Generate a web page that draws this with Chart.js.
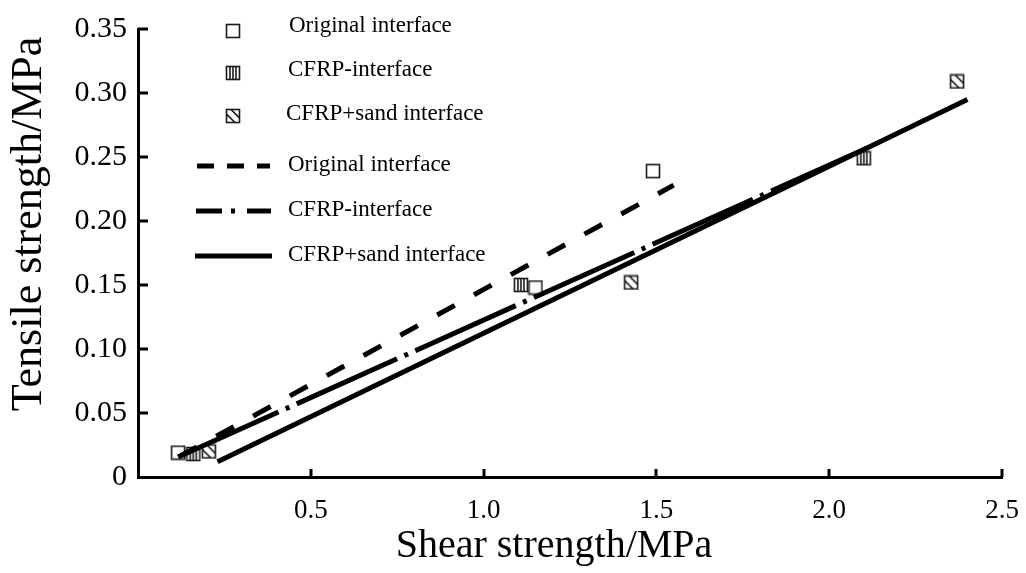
<!DOCTYPE html>
<html>
<head>
<meta charset="utf-8">
<script src="https://cdn.jsdelivr.net/npm/chart.js@4.4.0/dist/chart.umd.min.js"></script>
<style>
  html, body { margin: 0; padding: 0; background: #fff; }
  #wrap { width: 1026px; height: 573px; position: relative; }
</style>
</head>
<body>
<div id="wrap"><canvas id="chart"></canvas></div>
<script>
// ===== data =====
const seriesNames = ['Original interface', 'CFRP-interface', 'CFRP+sand interface'];
const xTitle = 'Shear strength/MPa';
const yTitle = 'Tensile strength/MPa';

const origShear   = [0.116, 1.15, 1.49];
const origTensile = [0.019, 0.148, 0.239];
const cfrpShear   = [0.16, 1.108, 2.10];
const cfrpTensile = [0.018, 0.150, 0.249];
const sandShear   = [0.205, 1.427, 2.37];
const sandTensile = [0.020, 0.152, 0.309];

// fitted lines (end points)
const origFitX = [0.12, 1.55];
const origFitY = [0.016, 0.228];
const cfrpFitX = [0.116, 2.11];
const cfrpFitY = [0.0156, 0.257];
const sandFitX = [0.23, 2.40];
const sandFitY = [0.012, 0.295];

const xTicks = [0.5, 1.0, 1.5, 2.0, 2.5];
const yTicks = [0, 0.05, 0.10, 0.15, 0.20, 0.25, 0.30, 0.35];

const SERIF = '"Liberation Serif", "Times New Roman", serif';

// ===== marker images =====
function makeMarker(kind) {
    const c = document.createElement('canvas');
    c.width = 16; c.height = 16;
    const g = c.getContext('2d');
    g.fillStyle = '#fff';
    g.fillRect(1.5, 1.5, 13, 13);
    g.strokeStyle = '#1a1a1a';
    g.lineWidth = 1.6;
    if (kind === 'vert') {
        g.beginPath();
        [5, 8, 11].forEach(x => { g.moveTo(x, 2); g.lineTo(x, 14); });
        g.stroke();
    } else if (kind === 'diag') {
        g.save();
        g.beginPath(); g.rect(1.5, 1.5, 13, 13); g.clip();
        g.beginPath();
        g.moveTo(1.5, 6); g.lineTo(10, 14.5);
        g.moveTo(6, 1.5); g.lineTo(14.5, 10);
        g.stroke();
        g.restore();
    }
    g.strokeRect(1.5, 1.5, 13, 13);
    return c;
}
const markers = [makeMarker('plain'), makeMarker('vert'), makeMarker('diag')];

const pts = (xs, ys) => xs.map((x, i) => ({ x: x, y: ys[i] }));

function lineSet(label, xs, ys, dash) {
    return {
        type: 'line', label: label, data: pts(xs, ys),
        borderColor: '#000', borderWidth: 5, borderDash: dash,
        pointRadius: 0, fill: false, tension: 0, borderCapStyle: 'butt'
    };
}
function pointSet(label, xs, ys, img) {
    return {
        type: 'scatter', label: label, data: pts(xs, ys),
        pointStyle: img, pointRadius: 8, showLine: false
    };
}

// ===== inward tick marks =====
const innerTicks = {
    id: 'innerTicks',
    afterDraw(chart) {
        const ctx = chart.ctx;
        const xs = chart.scales.x, ys = chart.scales.y;
        const area = chart.chartArea;
        ctx.save();
        ctx.strokeStyle = '#000';
        ctx.lineWidth = 3;
        ctx.beginPath();
        xTicks.forEach(v => {
            const px = Math.round(xs.getPixelForValue(v));
            ctx.moveTo(px, area.bottom);
            ctx.lineTo(px, area.bottom - 8);
        });
        yTicks.forEach(v => {
            if (v === 0) return;
            const py = Math.round(ys.getPixelForValue(v));
            ctx.moveTo(area.left, py);
            ctx.lineTo(area.left + 10, py);
        });
        ctx.stroke();
        ctx.restore();
    }
};

// ===== axis titles (placed like the original, not centred) =====
const axisTitles = {
    id: 'axisTitles',
    afterDraw(chart) {
        const ctx = chart.ctx;
        ctx.save();
        ctx.fillStyle = '#000';
        ctx.textAlign = 'center';
        ctx.textBaseline = 'middle';
        ctx.font = '40px ' + SERIF;
        ctx.fillText(xTitle, 554, 546);
        ctx.translate(29, 224);
        ctx.rotate(-Math.PI / 2);
        ctx.font = '44px ' + SERIF;
        ctx.fillText(yTitle, 0, 0);
        ctx.restore();
    }
};

// ===== legend drawn inside the plot =====
const insideLegend = {
    id: 'insideLegend',
    afterDraw(chart) {
        const ctx = chart.ctx;
        ctx.save();
        ctx.font = '23px ' + SERIF;
        ctx.fillStyle = '#000';
        ctx.textBaseline = 'middle';
        ctx.textAlign = 'left';
        const mY = [31, 73, 116];
        const mTx = [289, 288, 286];
        const mTy = [26, 70, 114];
        markers.forEach((m, i) => {
            ctx.drawImage(m, 233 - 8, mY[i] - 8);
            ctx.fillText(seriesNames[i], mTx[i], mTy[i]);
        });
        const lY = [166, 211, 256];
        const dashes = [[17, 13], [26, 9, 4, 12], []];
        const lx0 = [197, 196, 195], lx1 = [270, 271, 272];
        ctx.strokeStyle = '#000';
        ctx.lineWidth = 5;
        lY.forEach((y, i) => {
            ctx.setLineDash(dashes[i]);
            ctx.beginPath();
            ctx.moveTo(lx0[i], y);
            ctx.lineTo(lx1[i], y);
            ctx.stroke();
            ctx.fillText(seriesNames[i], 288, y - 1);
        });
        ctx.setLineDash([]);
        ctx.restore();
    }
};

new Chart(document.getElementById('chart'), {
    type: 'scatter',
    data: {
        datasets: [
            lineSet(seriesNames[0], origFitX, origFitY, [20, 22]),
            lineSet(seriesNames[1], cfrpFitX, cfrpFitY, [110, 8, 4, 8]),
            lineSet(seriesNames[2], sandFitX, sandFitY, []),
            pointSet(seriesNames[0], origShear, origTensile, markers[0]),
            pointSet(seriesNames[1], cfrpShear, cfrpTensile, markers[1]),
            pointSet(seriesNames[2], sandShear, sandTensile, markers[2])
        ]
    },
    options: {
        responsive: true,
        maintainAspectRatio: false,
        animation: false,
        layout: { padding: { top: 29, right: 24, left: 0, bottom: 0 } },
        plugins: { legend: { display: false }, tooltip: { enabled: false } },
        scales: {
            x: {
                type: 'linear', min: 0, max: 2.5,
                grid: { display: false },
                border: { display: true, width: 3, color: '#000' },
                afterFit: s => { s.height = 96; s.paddingRight = 0; s.paddingLeft = 0; },
                ticks: {
                    stepSize: 0.5, color: '#000', padding: 10,
                    font: { family: SERIF, size: 27 },
                    callback: v => v === 0 ? '' : v.toFixed(1)
                },
                title: { display: false }
            },
            y: {
                type: 'linear', min: 0, max: 0.35,
                grid: { display: false },
                border: { display: true, width: 3, color: '#000' },
                afterFit: s => { s.width = 138; },
                ticks: {
                    stepSize: 0.05, color: '#000', padding: 3,
                    font: { family: SERIF, size: 30 },
                    callback: v => v === 0 ? '0' : v.toFixed(2)
                },
                title: { display: false }
            }
        }
    },
    plugins: [innerTicks, insideLegend, axisTitles]
});
</script>
</body>
</html>
